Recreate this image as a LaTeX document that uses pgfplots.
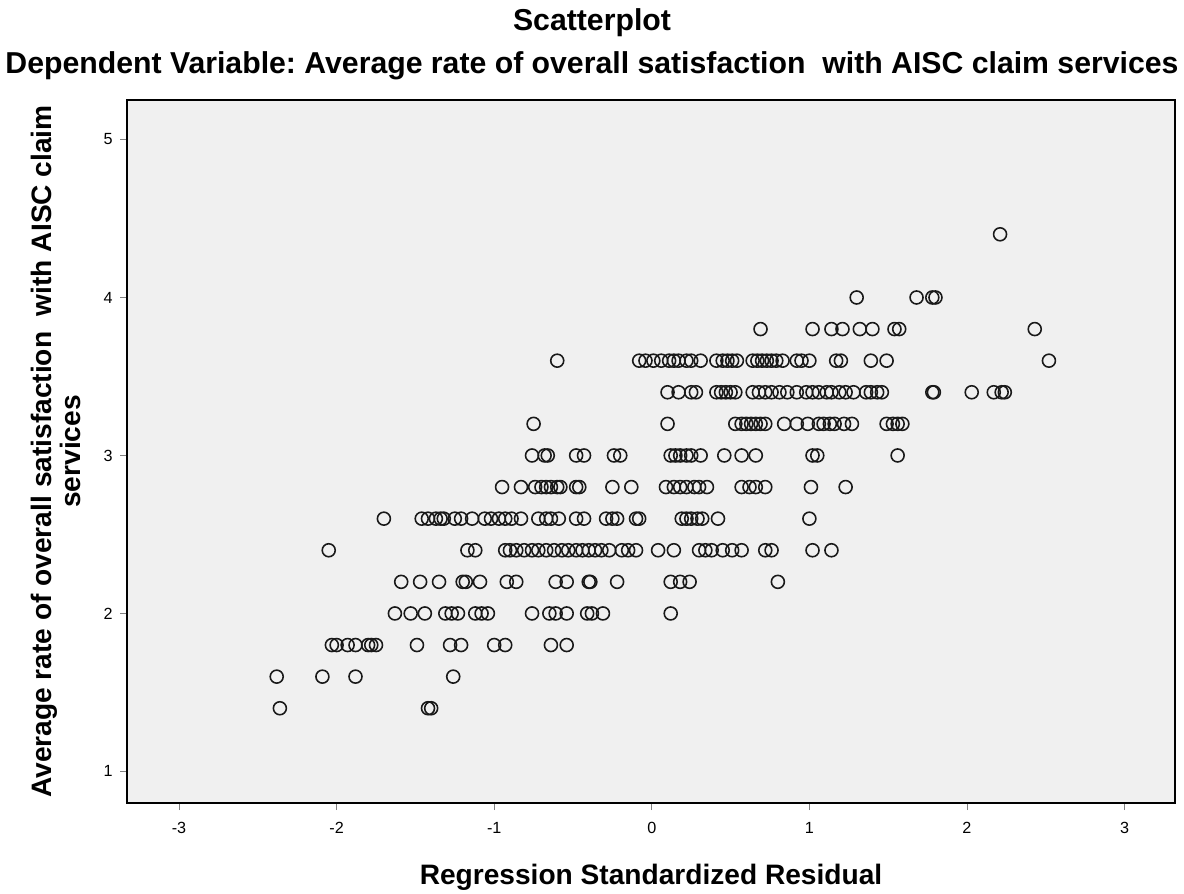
\documentclass[border=0pt]{standalone}
\usepackage{fontspec}
\setmainfont{Liberation Sans}
\usepackage{pgfplots}
\pgfplotsset{compat=1.18}
\definecolor{plotbg}{RGB}{240,240,240}
\frenchspacing

\begin{document}
\begin{tikzpicture}
\begin{axis}[
  scale only axis,
  width=10.48cm, height=7.03cm,
  xmin=-3.33, xmax=3.32,
  ymin=0.80, ymax=5.25,
  xtick={-3,-2,-1,0,1,2,3},
  ytick={1,2,3,4,5},
  tick pos=left,
  tick align=outside,
  major tick length=0.07cm,
  axis line style={line width=0.4pt},
  axis background/.style={fill=plotbg},
  tick label style={font=\fontsize{4.6}{5}\selectfont},
  /pgf/number format/assume math mode=true,
  xticklabel style={yshift=0cm},
  yticklabel style={xshift=0.05cm},
]
\addplot[only marks, mark=o, mark size=0.065cm, draw=black!90,
  mark options={line width=0.45pt}] table {
x y
-2.36 1.4
-1.42 1.4
-1.40 1.4
-2.38 1.6
-2.09 1.6
-1.88 1.6
-1.26 1.6
-2.03 1.8
-2.00 1.8
-1.93 1.8
-1.88 1.8
-1.80 1.8
-1.78 1.8
-1.75 1.8
-1.49 1.8
-1.28 1.8
-1.21 1.8
-1.00 1.8
-0.93 1.8
-0.64 1.8
-0.54 1.8
-1.63 2.0
-1.53 2.0
-1.44 2.0
-1.31 2.0
-1.27 2.0
-1.23 2.0
-1.12 2.0
-1.08 2.0
-1.04 2.0
-0.76 2.0
-0.65 2.0
-0.61 2.0
-0.54 2.0
-0.41 2.0
-0.38 2.0
-0.31 2.0
0.12 2.0
-1.59 2.2
-1.47 2.2
-1.35 2.2
-1.20 2.2
-1.18 2.2
-1.09 2.2
-0.92 2.2
-0.86 2.2
-0.61 2.2
-0.54 2.2
-0.40 2.2
-0.39 2.2
-0.22 2.2
0.12 2.2
0.18 2.2
0.24 2.2
0.80 2.2
-2.05 2.4
-1.17 2.4
-1.12 2.4
-0.93 2.4
-0.90 2.4
-0.86 2.4
-0.81 2.4
-0.76 2.4
-0.72 2.4
-0.67 2.4
-0.62 2.4
-0.57 2.4
-0.53 2.4
-0.48 2.4
-0.44 2.4
-0.40 2.4
-0.36 2.4
-0.32 2.4
-0.27 2.4
-0.19 2.4
-0.15 2.4
-0.10 2.4
0.04 2.4
0.14 2.4
0.30 2.4
0.34 2.4
0.38 2.4
0.45 2.4
0.51 2.4
0.57 2.4
0.72 2.4
0.76 2.4
1.02 2.4
1.14 2.4
-1.70 2.6
-1.46 2.6
-1.42 2.6
-1.37 2.6
-1.34 2.6
-1.32 2.6
-1.25 2.6
-1.21 2.6
-1.14 2.6
-1.06 2.6
-1.02 2.6
-0.97 2.6
-0.93 2.6
-0.89 2.6
-0.83 2.6
-0.72 2.6
-0.67 2.6
-0.64 2.6
-0.59 2.6
-0.48 2.6
-0.43 2.6
-0.29 2.6
-0.25 2.6
-0.22 2.6
-0.10 2.6
-0.08 2.6
0.19 2.6
0.22 2.6
0.25 2.6
0.29 2.6
0.32 2.6
0.42 2.6
1.00 2.6
-0.95 2.8
-0.83 2.8
-0.74 2.8
-0.70 2.8
-0.67 2.8
-0.64 2.8
-0.60 2.8
-0.58 2.8
-0.48 2.8
-0.46 2.8
-0.25 2.8
-0.13 2.8
0.09 2.8
0.14 2.8
0.18 2.8
0.22 2.8
0.27 2.8
0.30 2.8
0.35 2.8
0.57 2.8
0.62 2.8
0.66 2.8
0.72 2.8
1.01 2.8
1.23 2.8
-0.76 3.0
-0.68 3.0
-0.66 3.0
-0.48 3.0
-0.43 3.0
-0.24 3.0
-0.20 3.0
0.12 3.0
0.15 3.0
0.18 3.0
0.22 3.0
0.25 3.0
0.31 3.0
0.46 3.0
0.57 3.0
0.66 3.0
1.02 3.0
1.05 3.0
1.56 3.0
-0.75 3.2
0.10 3.2
0.53 3.2
0.57 3.2
0.60 3.2
0.63 3.2
0.66 3.2
0.69 3.2
0.72 3.2
0.84 3.2
0.92 3.2
0.99 3.2
1.06 3.2
1.09 3.2
1.13 3.2
1.16 3.2
1.22 3.2
1.27 3.2
1.49 3.2
1.53 3.2
1.56 3.2
1.59 3.2
0.10 3.4
0.17 3.4
0.25 3.4
0.28 3.4
0.41 3.4
0.44 3.4
0.47 3.4
0.50 3.4
0.53 3.4
0.64 3.4
0.68 3.4
0.72 3.4
0.76 3.4
0.81 3.4
0.86 3.4
0.92 3.4
0.98 3.4
1.02 3.4
1.06 3.4
1.11 3.4
1.14 3.4
1.19 3.4
1.23 3.4
1.28 3.4
1.36 3.4
1.39 3.4
1.43 3.4
1.46 3.4
1.78 3.4
1.79 3.4
2.03 3.4
2.17 3.4
2.22 3.4
2.24 3.4
-0.60 3.6
-0.08 3.6
-0.04 3.6
0.01 3.6
0.06 3.6
0.11 3.6
0.14 3.6
0.17 3.6
0.22 3.6
0.25 3.6
0.31 3.6
0.41 3.6
0.45 3.6
0.48 3.6
0.51 3.6
0.54 3.6
0.64 3.6
0.67 3.6
0.70 3.6
0.73 3.6
0.76 3.6
0.79 3.6
0.83 3.6
0.92 3.6
0.95 3.6
1.00 3.6
1.17 3.6
1.20 3.6
1.39 3.6
1.49 3.6
2.52 3.6
0.69 3.8
1.02 3.8
1.14 3.8
1.21 3.8
1.32 3.8
1.40 3.8
1.54 3.8
1.57 3.8
2.43 3.8
1.30 4.0
1.68 4.0
1.78 4.0
1.80 4.0
2.21 4.4
};
\end{axis}
% titles and axis labels, placed relative to the axis box
\begin{scope}[font=\fontsize{8.6}{9}\selectfont\bfseries, inner sep=0pt]
\node at ([xshift=4.65cm,yshift=0.77cm]current axis.north west) {Scatterplot};
\node at ([xshift=4.65cm,yshift=0.34cm]current axis.north west)
  {Dependent Variable: Average rate of overall satisfaction\ \ with AISC claim services};
\end{scope}
\begin{scope}[font=\fontsize{8}{8}\selectfont\bfseries, inner sep=0pt]
\node at ([yshift=-0.74cm]current axis.south) {Regression Standardized Residual};
\node[rotate=90, align=center] at ([xshift=-0.71cm]current axis.west)
  {Average rate of overall satisfaction\ \ with AISC claim\\services};
\end{scope}
\path ([xshift=-1.27cm,yshift=-0.90cm]current axis.south west)
  rectangle ([xshift=0.09cm,yshift=1.00cm]current axis.north east);
\end{tikzpicture}
\end{document}
